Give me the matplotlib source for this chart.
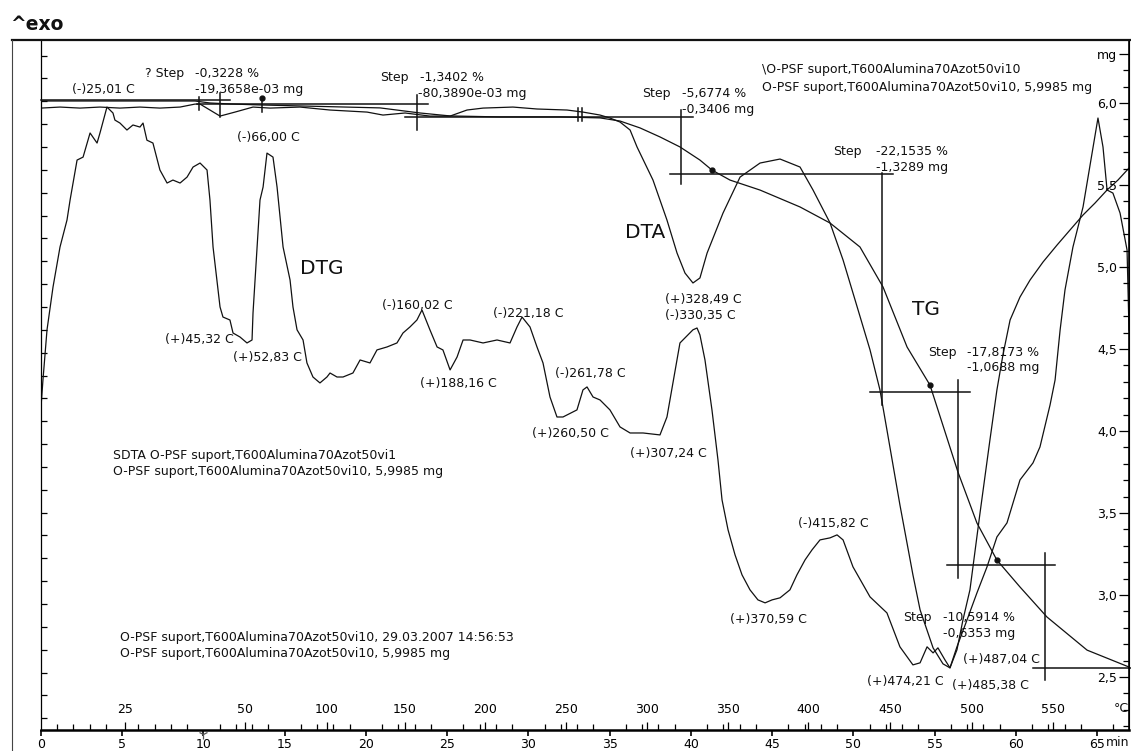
import matplotlib
matplotlib.use("Agg")
import matplotlib.pyplot as plt
from matplotlib.lines import Line2D

# ------------------------------------------------------------------ data
# DTG (noisy derivative curve), plotted on left axis scale
dtg_time = [0.0, 0.12, 0.37, 0.74, 1.17, 1.60, 1.79, 2.22, 2.59, 3.02, 3.45, 3.63, 4.06, 4.43, 4.55,
            4.86, 5.29, 5.66, 6.09, 6.28, 6.52, 6.89, 7.32, 7.76, 8.12, 8.56, 8.99, 9.36, 9.79, 10.22,
            10.40, 10.59, 11.02, 11.20, 11.63, 11.82, 12.25, 12.68, 12.99, 13.05, 13.30, 13.48, 13.67,
            13.91, 14.28, 14.53, 14.90, 15.33, 15.51, 15.76, 16.13, 16.37, 16.74, 17.17, 17.60, 17.79,
            18.22, 18.59, 19.20, 19.64, 20.25, 20.68, 21.30, 21.91, 22.28, 22.71, 23.14, 23.45, 23.94,
            24.38, 24.74, 25.18, 25.61, 25.98, 26.41, 27.21, 28.07, 28.87, 29.30, 29.61, 30.10, 30.53,
            30.90, 31.33, 31.76, 32.13, 32.99, 33.36, 33.61, 33.98, 34.41, 35.02, 35.64, 36.26, 37.06,
            38.10, 38.53, 38.90, 39.33, 40.13, 40.38, 40.56, 40.87, 41.30, 41.67, 41.92, 42.29, 42.72,
            43.15, 43.64, 44.13, 44.57, 45.0, 45.49, 46.10, 46.53, 47.03, 47.46, 47.95, 48.57, 49.0,
            49.37, 49.98, 51.03, 52.07, 52.87, 53.67, 54.11, 54.54, 54.91, 55.21, 55.64, 55.95, 56.38,
            57.0, 57.61, 58.23, 58.84, 59.46, 60.26, 61.06, 61.49, 62.11, 62.42, 62.73, 63.03, 63.52,
            64.14, 64.76, 65.06, 65.37, 65.62, 65.98, 66.42, 66.85, 66.97]
dtg_val = [0.2275, 0.204, 0.160, 0.1225, 0.0875, 0.0639, 0.0464, 0.0114, 0.0088, -0.0123, -0.0035,
           -0.0123, -0.035, -0.0298, -0.0236, -0.021, -0.0149, -0.0193, -0.0175, -0.021, -0.006,
           -0.0035, 0.0201, 0.0315, 0.0289, 0.0315, 0.0263, 0.0175, 0.014, 0.0201, 0.0464, 0.0875,
           0.140, 0.1488, 0.1514, 0.1628, 0.1663, 0.1715, 0.1689, 0.1453, 0.0875, 0.0464, 0.035,
           0.0053, 0.0088, 0.035, 0.0875, 0.1164, 0.140, 0.160, 0.1689, 0.189, 0.2013, 0.2065,
           0.2013, 0.1978, 0.2013, 0.2013, 0.1978, 0.1864, 0.189, 0.1776, 0.175, 0.1715, 0.1628,
           0.1575, 0.1514, 0.1426, 0.160, 0.175, 0.1776, 0.1951, 0.1838, 0.1689, 0.1689, 0.1715,
           0.1689, 0.1715, 0.1575, 0.1488, 0.1575, 0.175, 0.189, 0.2188, 0.2363, 0.2363, 0.2301,
           0.2126, 0.21, 0.2188, 0.2214, 0.2301, 0.245, 0.2503, 0.2503, 0.252, 0.2363, 0.2065,
           0.1715, 0.160, 0.1584, 0.1645, 0.1864, 0.2301, 0.2739, 0.3089, 0.3351, 0.357, 0.3745,
           0.3876, 0.3964, 0.399, 0.3964, 0.3946, 0.3876, 0.3745, 0.3614, 0.3526, 0.3439, 0.3421,
           0.3395, 0.3439, 0.3675, 0.3938, 0.4078, 0.4375, 0.4533, 0.4515, 0.4375, 0.4428, 0.4384,
           0.4489, 0.4559, 0.4375, 0.4139, 0.3903, 0.3675, 0.3413, 0.329, 0.2914, 0.2765, 0.2625,
           0.2258, 0.2039, 0.1601, 0.1251, 0.0875, 0.0525, 0.0, -0.0254, 0.0, 0.0376, 0.0403,
           0.0578, 0.0901, 0.1601]

# DTA (°C, left axis, drawn inverted)
dta_time = [0.0, 1.17, 2.40, 3.63, 4.86, 6.09, 7.32, 8.56, 9.48, 9.79, 10.40, 11.02, 11.94, 13.05,
            14.10, 15.94, 17.79, 20.07, 21.05, 22.41, 23.94, 25.18, 26.22, 27.21, 29.05, 30.53,
            32.38, 33.36, 34.41, 35.02, 35.64, 36.26, 36.69, 37.67, 38.53, 39.15, 39.64, 40.13,
            40.56, 41.0, 41.98, 43.03, 44.26, 45.49, 46.72, 47.52, 48.57, 49.37, 50.11, 51.03,
            51.64, 52.07, 52.87, 53.67, 54.11, 54.91, 55.52, 55.95, 56.38, 56.75, 57.18, 57.80,
            58.41, 58.84, 59.21, 59.65, 60.26, 60.88, 61.68, 62.54, 63.34, 64.14, 64.88, 65.62,
            66.29, 66.97]
dta_val = [-0.0341, -0.035, -0.0341, -0.035, -0.0341, -0.035, -0.0341, -0.035, -0.0376, -0.0376,
           -0.0324, -0.0271, -0.0306, -0.035, -0.0341, -0.035, -0.0324, -0.0306, -0.028, -0.0298,
           -0.0271, -0.0271, -0.0324, -0.0341, -0.035, -0.0333, -0.0324, -0.0306, -0.028, -0.0254,
           -0.0219, -0.0149, 0.0, 0.0289, 0.0639, 0.0928, 0.1103, 0.119, 0.1146, 0.0928, 0.0578,
           0.0263, 0.014, 0.0105, 0.0175, 0.0376, 0.0665, 0.0989, 0.1339, 0.1776, 0.2126, 0.2476,
           0.3133, 0.3745, 0.4051, 0.4384, 0.4524, 0.4559, 0.4401, 0.4139, 0.3876, 0.3203, 0.2564,
           0.2126, 0.182, 0.1514, 0.1313, 0.1164, 0.1006, 0.0858, 0.0726, 0.0595, 0.049, 0.0376,
           0.0289, 0.0184]

# TG (mg, right axis)
tg_time = [0.0, 4.86, 9.48, 10.40, 11.63, 13.48, 15.94, 20.87, 23.33, 25.18, 28.25, 31.95, 34.41,
           35.64, 36.87, 38.10, 39.33, 40.56, 41.30, 42.41, 44.26, 46.72, 48.57, 50.41, 51.83,
           53.31, 54.72, 56.44, 57.61, 58.84, 60.26, 61.92, 64.39, 66.97]
tg_mass = [6.012, 6.012, 6.012, 6.0, 5.994, 5.988, 5.982, 5.970, 5.939, 5.921, 5.915, 5.915, 5.909,
           5.890, 5.848, 5.793, 5.732, 5.652, 5.591, 5.530, 5.469, 5.366, 5.268, 5.122, 4.878,
           4.512, 4.280, 3.750, 3.439, 3.213, 3.049, 2.866, 2.664, 2.561]

# step evaluation construction lines (mg level / time)
step_h_mass = [6.018, 5.994, 5.915, 5.567, 4.238, 3.183, 2.555]
step_h_t0 = [0.0, 9.6, 22.41, 38.72, 51.03, 55.77, 61.06]
step_h_t1 = [11.63, 23.82, 40.13, 52.44, 57.18, 62.42, 67.1]
step_v_time = [9.73, 11.02, 13.6, 23.14, 33.05, 33.3, 39.4, 51.77, 56.44, 61.8]
step_v_m0 = [6.037, 6.061, 6.037, 6.049, 5.970, 5.970, 5.957, 5.573, 4.311, 3.256]
step_v_m1 = [5.957, 5.915, 5.945, 5.835, 5.890, 5.890, 5.506, 4.158, 3.104, 2.482]
step_dot_time = [13.6, 41.3, 54.72, 58.84]
step_dot_mass = [6.03, 5.591, 4.280, 3.213]

# end of isothermal segment (Y mark on the time axis)
iso_end_time = [10.0]

# axis ticks / labels
left_ticks = [-0.08, 0.0, 0.1, 0.2, 0.3, 0.4, 0.5]
left_labels = ["°C", "0,0", "0,1", "0,2", "0,3", "0,4", "0,5"]
right_ticks = [6.3, 6.0, 5.5, 5.0, 4.5, 4.0, 3.5, 3.0, 2.5]
right_labels = ["mg", "6,0", "5,5", "5,0", "4,5", "4,0", "3,5", "3,0", "2,5"]
time_ticks = [0, 5, 10, 15, 20, 25, 30, 35, 40, 45, 50, 55, 60, 65]
temp_labels = ["25", "50", "100", "150", "200", "250", "300", "350", "400", "450", "500", "550"]
temp_tick_time = [5.17, 12.56, 17.6, 22.4, 27.33, 32.3, 37.3, 42.29, 47.2, 52.26, 57.3, 62.29]

# ------------------------------------------------------------------ figure
W, H = 1131, 751
fig = plt.figure(figsize=(W / 100, H / 100), dpi=100)
fig.patch.set_facecolor("white")
FS = 9

ax_l, ax_r, ax_top, ax_bot = 41, 1129, 40, 730
ax = fig.add_axes([ax_l / W, (H - ax_bot) / H, (ax_r - ax_l) / W, (ax_bot - ax_top) / H])
ax.set_xlim(0, 66.97)
ax.set_ylim(0.5103, -0.0937)
ax2 = ax.twinx()
ax2.set_ylim(2.177, 6.384)

for a in (ax, ax2):
    a.set_facecolor("none")
    a.spines["top"].set_visible(False)
ax.spines["left"].set_linewidth(0.9)
ax.spines["bottom"].set_linewidth(1.8)
ax2.spines["right"].set_linewidth(1.2)
ax2.spines["left"].set_visible(False)
ax2.spines["bottom"].set_visible(False)

lc = "#111111"
ax.plot(dtg_time, dtg_val, color=lc, lw=0.9)
ax.plot(dta_time, dta_val, color=lc, lw=0.9)
ax2.plot(tg_time, tg_mass, color=lc, lw=0.9)

for m, t0, t1 in zip(step_h_mass, step_h_t0, step_h_t1):
    ax2.plot([t0, t1], [m, m], color=lc, lw=1.1, clip_on=False)
for t, m0, m1 in zip(step_v_time, step_v_m0, step_v_m1):
    ax2.plot([t, t], [m0, m1], color=lc, lw=1.1)
ax2.plot(step_dot_time, step_dot_mass, "o", color=lc, ms=3.5)

# Y mark just under the time axis at the end of the isothermal hold
ax.plot(iso_end_time, [0.5135] * len(iso_end_time), marker="1", color="#555555", ms=7,
        mew=0.9, ls="none", clip_on=False)

# left axis ticks
ax.set_yticks(left_ticks, left_labels)
ax.set_yticks([-0.08 + 0.02 * i for i in range(30)], minor=True)
ax.tick_params(axis="y", which="major", direction="inout", length=8, width=0.9, pad=2, labelsize=FS)
ax.tick_params(axis="y", which="minor", direction="in", length=4, width=0.9)

# bottom (time) ticks
ax.set_xticks(time_ticks, [str(v) for v in time_ticks])
ax.set_xticks(list(range(0, 67)), minor=True)
ax.tick_params(axis="x", which="major", direction="out", length=4.5, width=1.2, pad=1.0, labelsize=FS)
ax.tick_params(axis="x", which="minor", direction="in", length=4, width=0.9)

# right axis (mg) ticks, labels inside the plot
ax2.set_yticks(right_ticks, right_labels)
ax2.set_yticks([2.2 + 0.1 * i for i in range(42)], minor=True)
ax2.tick_params(axis="y", which="major", direction="in", length=7, width=0.9, pad=-8.6, labelsize=FS)
ax2.tick_params(axis="y", which="minor", direction="in", length=4, width=0.9)
for lab in ax2.get_yticklabels():
    lab.set_horizontalalignment("right")

# temperature ticks on the bottom axis, labels above the axis
ax3 = ax.twiny()
ax3.set_xlim(ax.get_xlim())
for s in ax3.spines.values():
    s.set_visible(False)
ax3.xaxis.set_ticks_position("bottom")
ax3.xaxis.set_label_position("bottom")
ax3.set_xticks(temp_tick_time, temp_labels)
ax3.tick_params(axis="x", direction="in", length=6, width=0.9, pad=-19.5, labelsize=FS)
ax3.set_yticks([])


def px_text(x, y, s, size=FS, **kw):
    kw.setdefault("ha", "left")
    kw.setdefault("va", "center")
    fig.text(x / W, 1 - y / H, s, fontsize=size, color=lc, **kw)


# outer frame
fig.add_artist(Line2D([12 / W, 1.0], [1 - 40 / H, 1 - 40 / H], color=lc, lw=1.6))
fig.add_artist(Line2D([12 / W, 12 / W], [1 - 40 / H, 0.0], color="#444444", lw=0.8))
px_text(10, 24, "^exo", size=13.5, weight="bold")

# peak labels
peak_texts = [
    ("(-)25,01 C", 72, 90), ("(-)66,00 C", 237, 137), ("(+)45,32 C", 165, 339),
    ("(+)52,83 C", 233, 357), ("(-)160,02 C", 382, 306), ("(+)188,16 C", 420, 383),
    ("(-)221,18 C", 493, 314), ("(-)261,78 C", 555, 373), ("(+)260,50 C", 532, 433),
    ("(+)307,24 C", 630, 453), ("(+)328,49 C", 665, 300), ("(-)330,35 C", 665, 315),
    ("(+)370,59 C", 730, 620), ("(-)415,82 C", 798, 523), ("(+)474,21 C", 867, 682),
    ("(+)485,38 C", 952, 685), ("(+)487,04 C", 963, 660),
]
for s, x, y in peak_texts:
    px_text(x, y, s)

for s, x, y in [("DTG", 300, 268), ("DTA", 625, 232), ("TG", 912, 310)]:
    px_text(x, y, s, size=14.5)

step_texts = [
    ("? Step", 145, 73), ("-0,3228 %", 195, 73), ("-19,3658e-03 mg", 195, 89),
    ("Step", 380, 78), ("-1,3402 %", 420, 78), ("-80,3890e-03 mg", 418, 94),
    ("Step", 642, 93), ("-5,6774 %", 682, 93), ("-0,3406 mg", 682, 109),
    ("Step", 833, 152), ("-22,1535 %", 876, 152), ("-1,3289 mg", 876, 167),
    ("Step", 928, 352), ("-17,8173 %", 967, 352), ("-1,0688 mg", 967, 367),
    ("Step", 903, 617), ("-10,5914 %", 943, 617), ("-0,6353 mg", 943, 633),
]
for s, x, y in step_texts:
    px_text(x, y, s)

info_texts = [
    ("\\O-PSF suport,T600Alumina70Azot50vi10", 762, 70),
    ("O-PSF suport,T600Alumina70Azot50vi10, 5,9985 mg", 762, 87),
    ("SDTA O-PSF suport,T600Alumina70Azot50vi1", 113, 455),
    ("O-PSF suport,T600Alumina70Azot50vi10, 5,9985 mg", 113, 472),
    ("O-PSF suport,T600Alumina70Azot50vi10, 29.03.2007 14:56:53", 120, 638),
    ("O-PSF suport,T600Alumina70Azot50vi10, 5,9985 mg", 120, 653),
]
for s, x, y in info_texts:
    px_text(x, y, s)

px_text(1129, 742, "min", ha="right")
px_text(1129, 709, "°C", ha="right")

fig.savefig("out.png", dpi=100, facecolor="white")
